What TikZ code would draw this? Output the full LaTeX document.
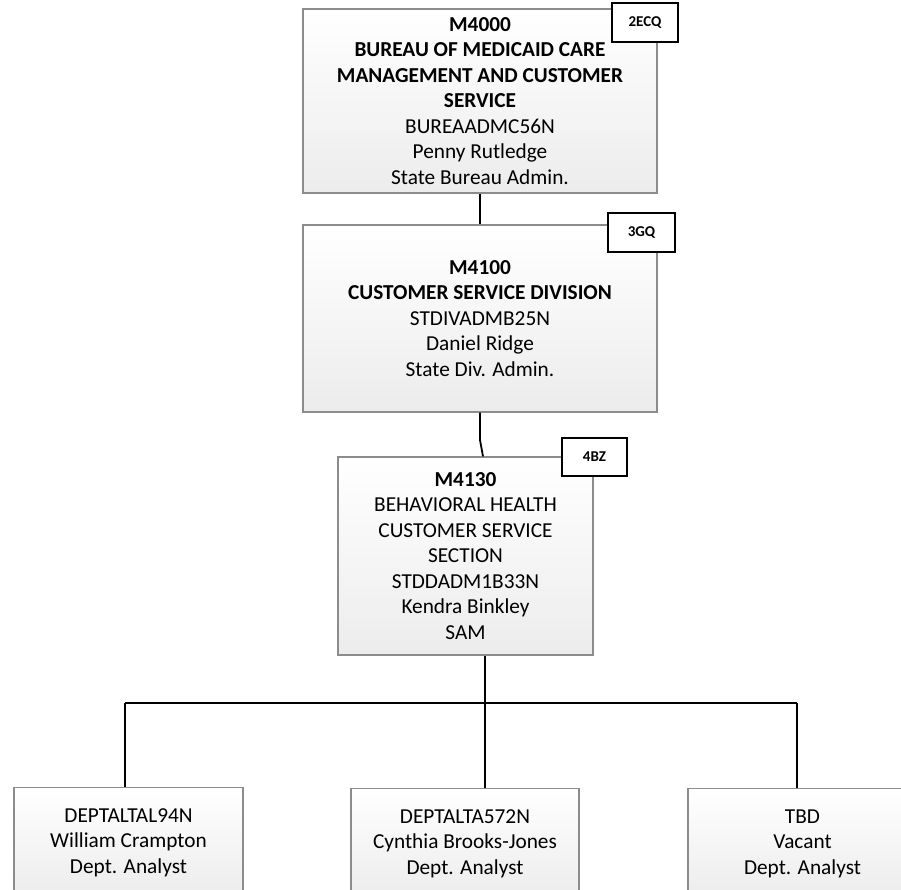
\documentclass[tikz,border=0pt]{standalone}
\usepackage{fontspec}
\setmainfont{Carlito}
\begin{document}
\begin{tikzpicture}[x=1pt,y=-1pt,
  orgbox/.style={draw={rgb,255:red,140;green,140;blue,140}, line width=1.2pt,
    top color=white, bottom color={rgb,255:red,236;green,236;blue,236},
    inner sep=0pt, align=center, font=\fontsize{21.3}{25.5}\selectfont},
  tagbox/.style={draw=black, line width=1.8pt, fill=white, inner sep=0pt,
    font=\fontsize{15}{17}\selectfont\bfseries},
  link/.style={draw=black, line width=1.8pt}]
\useasboundingbox (0,0) rectangle (901,890);
\clip (0,0) rectangle (901,890);

\node[orgbox, minimum width=354, minimum height=184] (b1) at (480,101)
  {\textbf{M4000}\\\textbf{BUREAU OF MEDICAID CARE}\\\textbf{MANAGEMENT AND CUSTOMER}\\\textbf{SERVICE}\\BUREAADMC56N\\Penny Rutledge\\State Bureau Admin.};
\node[tagbox, minimum width=66, minimum height=39] (t1) at (645,22.5) {2ECQ};

\node[orgbox, minimum width=354, minimum height=187] (b2) at (480,318.5)
  {\textbf{M4100}\\\textbf{CUSTOMER SERVICE DIVISION}\\STDIVADMB25N\\Daniel Ridge\\State Div. Admin.};
\node[tagbox, minimum width=67, minimum height=39] (t2) at (641.5,232.5) {3GQ};

\node[orgbox, minimum width=255, minimum height=198] (b3) at (465.5,556)
  {\textbf{M4130}\\BEHAVIORAL HEALTH\\CUSTOMER SERVICE\\SECTION\\STDDADM1B33N\\Kendra Binkley\\SAM};
\node[tagbox, minimum width=65, minimum height=38] (t3) at (594.5,457) {4BZ};

\node[orgbox, minimum width=229, minimum height=110, anchor=north] (c1) at (128.5,787)
  {DEPTALTAL94N\\William Crampton\\Dept. Analyst};
\node[orgbox, minimum width=228, minimum height=110, anchor=north] (c2) at (465,788)
  {DEPTALTA572N\\Cynthia Brooks-Jones\\Dept. Analyst};
\node[orgbox, minimum width=229, minimum height=110, anchor=north] (c3) at (802.5,788)
  {TBD\\Vacant\\Dept. Analyst};

\coordinate (k2) at (480,440);
\coordinate (bar) at (485,703);
\coordinate (barL) at (125,703);
\coordinate (barR) at (797,703);

\draw[link] (b1.south) -- (b2.north);
\draw[link] (b2.south) -- (k2) -- (b3.north -| 483,0);
\draw[link] (b3.south -| bar) -- (bar);
\draw[link] (barL) -- (barR);
\draw[link] (barL) -- (barL |- c1.north);
\draw[link] (bar) -- (bar |- c2.north);
\draw[link] (barR) -- (barR |- c3.north);
\end{tikzpicture}
\end{document}
